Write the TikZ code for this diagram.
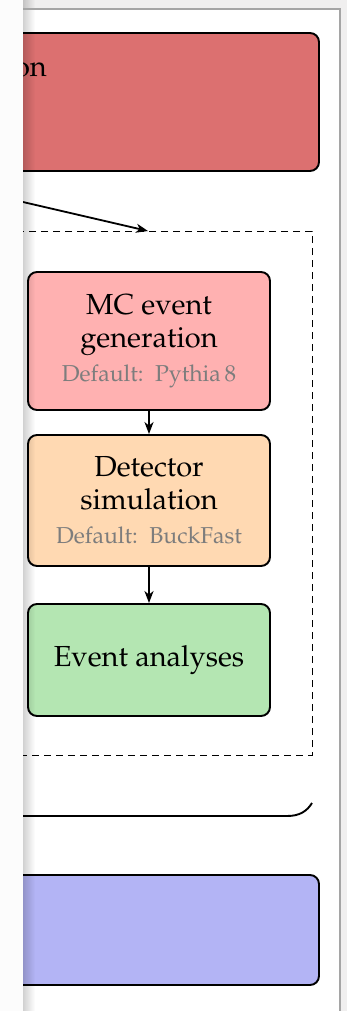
\documentclass[tikz,border=0pt]{standalone}
\usepackage[T1]{fontenc}
\usepackage{mathpazo}
\usetikzlibrary{arrows.meta}
\definecolor{redbox}{RGB}{220,112,112}
\definecolor{mcpink}{RGB}{255,177,177}
\definecolor{detpeach}{RGB}{255,217,178}
\definecolor{anagreen}{RGB}{180,230,178}
\definecolor{bluebox}{RGB}{179,180,245}
\definecolor{subgray}{RGB}{125,125,125}
\definecolor{framegray}{RGB}{165,165,165}
\definecolor{outgray}{RGB}{240,239,239}
\definecolor{leftgray}{RGB}{252,252,252}
\newcommand{\subtxt}{\fontsize{23}{27}\selectfont\color{subgray}}
\begin{document}
\begin{tikzpicture}[x=1pt,y=-1pt,
  box/.style={draw=black, line width=1.9pt, rounded corners=9pt, inner sep=0pt,
              align=center, font=\fontsize{29}{33}\selectfont},
  arr/.style={line width=1.8pt, -{Stealth[length=12pt,width=9pt,inset=3.5pt]}},
  dashbox/.style={draw=black, line width=1pt, dash pattern=on 7pt off 5pt, inner sep=0pt}]
\useasboundingbox (0,0) rectangle (347,1011);
\fill[white] (0,0) rectangle (347,1011);
\fill[leftgray] (0,0) rectangle (23,1011);
\fill[outgray] (23,0) rectangle (347,9);
\fill[outgray] (341,0) rectangle (347,1011);
\begin{scope}
\clip (23,10) rectangle (339.5,1011);
\node[box, fill=redbox, minimum width=419pt, minimum height=138pt] (red) at (109.5,102) {};
\node[anchor=base east, font=\fontsize{29}{33}\selectfont, inner sep=0pt] (redtxt) at (47,77) {on};
\node[dashbox, minimum width=412pt, minimum height=524pt] (grp) at (106,493) {};
\node[box, fill=mcpink, minimum width=242pt, minimum height=138pt] (mc) at (149,341)
  {MC event\\generation\\[1pt]{\subtxt Default:\ \ Pythia\,8}};
\node[box, fill=detpeach, minimum width=242pt, minimum height=131pt] (det) at (149,500.5)
  {Detector\\simulation\\[1pt]{\subtxt Default:\ \ BuckFast}};
\node[box, fill=anagreen, minimum width=242pt, minimum height=112pt] (ana) at (149,660)
  {Event analyses};
\node[box, fill=bluebox, minimum width=419pt, minimum height=110pt] (blue) at (109.5,930) {};
\coordinate (src) at (10,199);
\coordinate (tip) at (148,231);
\draw[arr] (src) -- (tip);
\draw[arr] (mc.south) -- (det.north);
\draw[arr] (det.south) -- (ana.north);
\coordinate (cstart) at (-100,816);
\coordinate (cend) at (312,803);
\draw[line width=1.9pt] (cstart) -- (287,816) .. controls (300,816) and (307,811) .. (cend);
\end{scope}
\foreach \i in {0,...,11} {
  \fill[black, opacity={0.18*(1-\i/12)}] (23+\i,0) rectangle (24+\i,1011);
}
\draw[framegray, line width=1.6pt] (23,9) -- (340.2,9) -- (340.2,1011);
\end{tikzpicture}
\end{document}
